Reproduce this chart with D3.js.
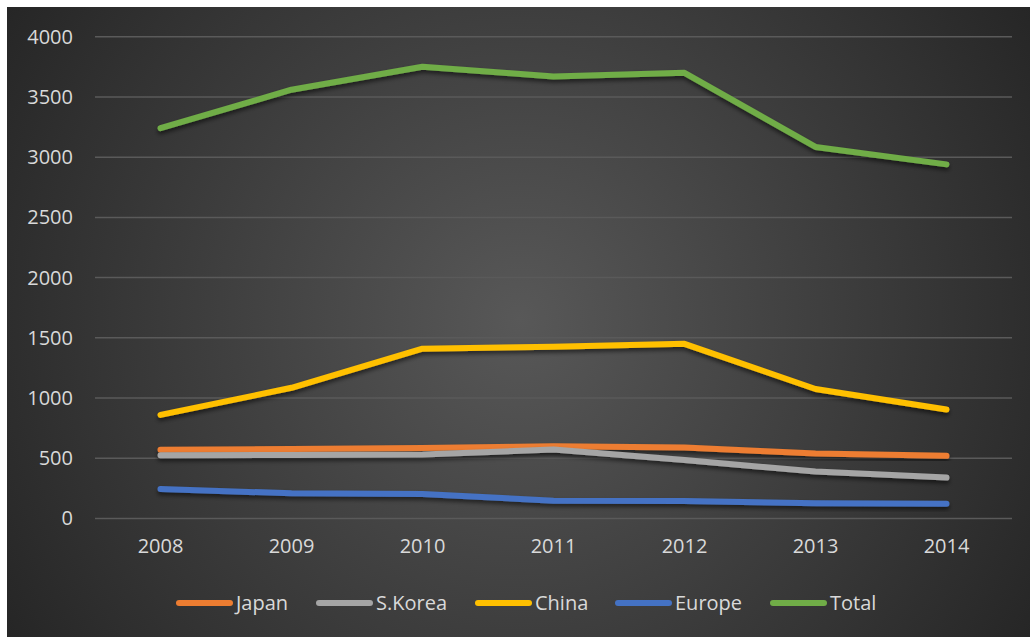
<!DOCTYPE html>
<html>
<head>
<meta charset="utf-8">
<script src="https://cdn.jsdelivr.net/npm/d3@7"></script>
<style>
  html, body { margin: 0; padding: 0; background: #ffffff; }
  svg { display: block; }
</style>
</head>
<body>
<svg id="chart" width="1030" height="637"></svg>
<script>
// Yearly volumes by region
const years = ["2008", "2009", "2010", "2011", "2012", "2013", "2014"];
const japan  = [570, 577, 585, 600, 590, 540, 520];
const korea  = [525, 528, 532, 572, 485, 390, 340];
const china  = [860, 1085, 1410, 1425, 1450, 1075, 905];
const europe = [245, 209, 203, 148, 145, 126, 123];
const total  = [3240, 3560, 3750, 3670, 3700, 3085, 2940];
const yTicks = [0, 500, 1000, 1500, 2000, 2500, 3000, 3500, 4000];

const seriesNames  = ["Japan", "S.Korea", "China", "Europe", "Total"];
const seriesValues = [japan, korea, china, europe, total];
const seriesColors = ["#ed7d31", "#a5a5a5", "#ffc000", "#4472c4", "#70ad47"];

const svg = d3.select("#chart");
const defs = svg.append("defs");

const bg = defs.append("radialGradient")
  .attr("id", "bgGrad")
  .attr("gradientUnits", "userSpaceOnUse")
  .attr("cx", 520).attr("cy", 320).attr("r", 600);
bg.append("stop").attr("offset", "0").attr("stop-color", "#585858");
bg.append("stop").attr("offset", "1").attr("stop-color", "#262626");

const shadow = defs.append("filter")
  .attr("id", "lineShadow")
  .attr("x", "-10%").attr("y", "-50%").attr("width", "120%").attr("height", "200%");
shadow.append("feDropShadow")
  .attr("dx", 0).attr("dy", 3).attr("stdDeviation", 2)
  .attr("flood-color", "#000").attr("flood-opacity", 0.55);

// chart background
svg.append("rect")
  .attr("x", 7).attr("y", 7).attr("width", 1023).attr("height", 630)
  .attr("fill", "url(#bgGrad)");

const plot = { left: 95, right: 1012, top: 36.7, bottom: 518.5 };

const x = d3.scaleBand().domain(years).range([plot.left, plot.right]);
const y = d3.scaleLinear().domain([0, 4000]).range([plot.bottom, plot.top]);

const font = "'Open Sans', 'DejaVu Sans', sans-serif";
const textColor = "#d9d9d9";

// gridlines
svg.append("g")
  .selectAll("line")
  .data(yTicks)
  .join("line")
  .attr("x1", plot.left).attr("x2", plot.right)
  .attr("y1", d => y(d)).attr("y2", d => y(d))
  .attr("stroke", "#5a5a5a").attr("stroke-width", 1.5);

// y axis labels
const yAxis = svg.append("g")
  .attr("transform", `translate(${plot.left - 22},0)`)
  .call(d3.axisLeft(y).tickValues(yTicks).tickFormat(d3.format("d")).tickSize(0).tickPadding(0));
yAxis.select(".domain").remove();
yAxis.selectAll("text")
  .attr("fill", textColor)
  .style("font-family", font)
  .style("font-size", "20px");

// x axis labels
const xAxis = svg.append("g")
  .attr("transform", `translate(0,${plot.bottom + 20})`)
  .call(d3.axisBottom(x).tickSize(0).tickPadding(0));
xAxis.select(".domain").remove();
xAxis.selectAll("text")
  .attr("fill", textColor)
  .style("font-family", font)
  .style("font-size", "20px");

// series lines
const line = d3.line()
  .x((d, i) => x(years[i]) + x.bandwidth() / 2)
  .y(d => y(d));

svg.append("g")
  .selectAll("path")
  .data(seriesValues)
  .join("path")
  .attr("d", d => line(d))
  .attr("fill", "none")
  .attr("stroke", (d, i) => seriesColors[i])
  .attr("stroke-width", 6)
  .attr("stroke-linecap", "round")
  .attr("stroke-linejoin", "round")
  .attr("filter", "url(#lineShadow)");

// legend
const legendX = [176, 316, 475, 615, 770];
const legendY = 603;
const legend = svg.append("g")
  .selectAll("g")
  .data(seriesNames)
  .join("g")
  .attr("transform", (d, i) => `translate(${legendX[i]},${legendY})`);
legend.append("line")
  .attr("x1", 3).attr("x2", 54).attr("y1", 0).attr("y2", 0)
  .attr("stroke", (d, i) => seriesColors[i])
  .attr("stroke-width", 6)
  .attr("stroke-linecap", "round");
legend.append("text")
  .attr("x", 60).attr("y", 0).attr("dy", "0.35em")
  .attr("fill", textColor)
  .style("font-family", font)
  .style("font-size", "20px")
  .text(d => d);
</script>
</body>
</html>
